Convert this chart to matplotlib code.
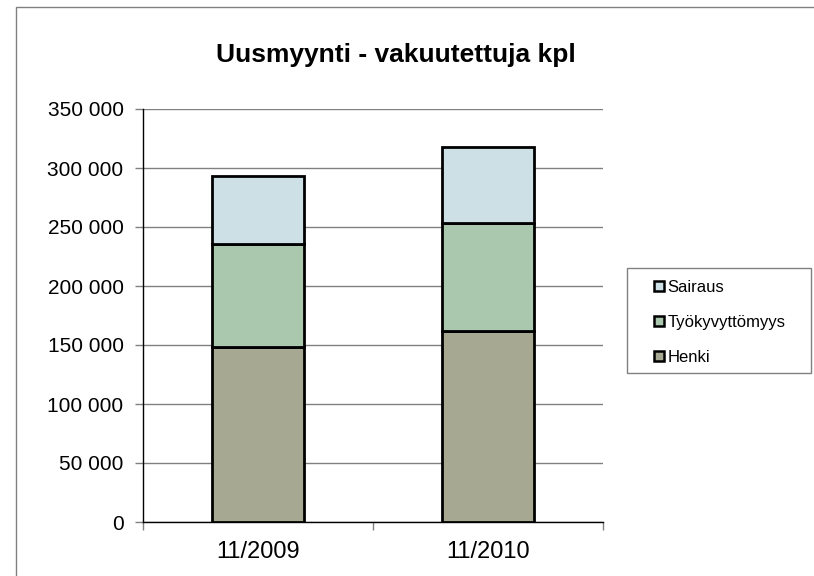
import matplotlib
matplotlib.use("Agg")
import matplotlib.pyplot as plt
from matplotlib.lines import Line2D
from matplotlib.patches import Rectangle
from matplotlib.ticker import FuncFormatter, FixedLocator

plt.rcParams['font.family'] = ['Liberation Sans', 'DejaVu Sans']

categories = ["11/2009", "11/2010"]
series_names = ["Henki", "Työkyvyttömyys", "Sairaus"]
henki = [148600, 162200]
tyokyvyttomyys = [87000, 90900]
sairaus = [57600, 64400]
colors = ["#A6A892", "#AAC8AD", "#CCE0E6"]
title = "Uusmyynti - vakuutettuja kpl"

W, H = 814, 576
fig = plt.figure(figsize=(W / 100, H / 100), dpi=100)
fig.patch.set_facecolor("white")

# outer chart border
fig.patches.append(Rectangle((16 / W, -0.05), 1.0, 1 - 7 / H + 0.05,
                             transform=fig.transFigure, fill=False,
                             edgecolor="#808080", linewidth=1.0))

ax = fig.add_axes([143 / W, 1 - 522 / H, (603 - 143) / W, (522 - 109) / H])

x = list(range(len(categories)))
bottom = [0] * len(categories)
for name, vals, c in zip(series_names, [henki, tyokyvyttomyys, sairaus], colors):
    ax.bar(x, vals, width=0.4, bottom=bottom, color=c, edgecolor="black",
           linewidth=2.0, label=name, zorder=3)
    bottom = [b + v for b, v in zip(bottom, vals)]

ax.set_xlim(-0.5, 1.5)
ax.set_ylim(0, 350000)
ax.set_yticks(range(0, 350001, 50000))
ax.yaxis.set_major_formatter(FuncFormatter(lambda v, p: f"{int(v):,}".replace(",", " ")))
ax.grid(axis="y", color="#808080", linewidth=1.0, zorder=0)
ax.set_axisbelow(True)

ax.set_xticks(x)
ax.set_xticklabels(categories, fontsize=17)
ax.xaxis.set_minor_locator(FixedLocator([-0.5, 0.5, 1.5]))
ax.tick_params(axis="x", which="major", length=0, pad=14)
ax.tick_params(axis="x", which="minor", length=6, width=1, color="#808080", direction="out")
ax.tick_params(axis="y", length=6, width=1, color="#808080", direction="out", labelsize=15, pad=8)

for s in ["top", "right"]:
    ax.spines[s].set_visible(False)
ax.spines["left"].set_color("black")
ax.spines["bottom"].set_color("black")
ax.spines["left"].set_linewidth(1.0)
ax.spines["bottom"].set_linewidth(1.0)

fig.text(396 / W, 1 - 62 / H, title, ha="center", va="baseline",
         fontsize=19, fontweight="bold")

# legend box
fig.patches.append(Rectangle((627 / W, 1 - 373 / H), (811 - 627) / W, (373 - 268) / H,
                             transform=fig.transFigure, fill=True, facecolor="white",
                             edgecolor="#808080", linewidth=1.0, zorder=5))

handles = [Line2D([], [], linestyle="none", marker="s", markersize=7.5,
                  markerfacecolor=c, markeredgecolor="black", markeredgewidth=1.8)
           for c in colors]
labels = series_names
leg = fig.legend(handles[::-1], labels[::-1], loc="upper left",
                 bbox_to_anchor=(653 / W, 1 - 280 / H), fontsize=12,
                 frameon=False, handlelength=0.75, handletextpad=0.1,
                 labelspacing=1.2, borderpad=0, borderaxespad=0)
leg.set_zorder(6)

fig.savefig("out.png", dpi=100)
